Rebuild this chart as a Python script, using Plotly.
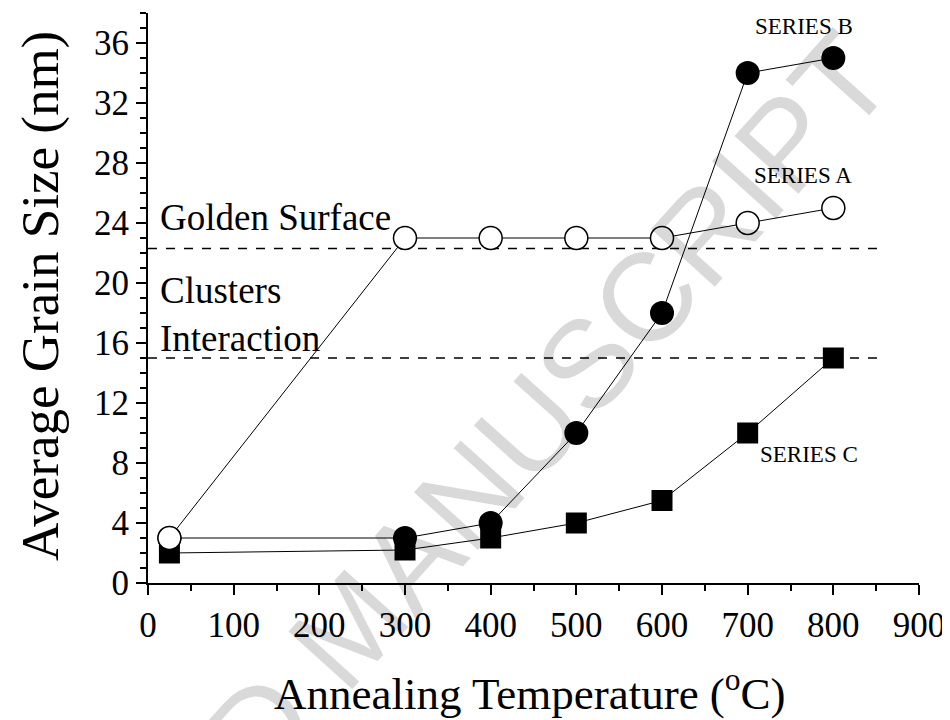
import plotly.graph_objects as go

# Data
temps_a = [25, 300, 400, 500, 600, 700, 800]
series_a = [3, 23, 23, 23, 23, 24, 25]
temps_b = [25, 300, 400, 500, 600, 700, 800]
series_b = [3, 3, 4, 10, 18, 34, 35]
temps_c = [25, 300, 400, 500, 600, 700, 800]
series_c = [2, 2.2, 3, 4, 5.5, 10, 15]
ref_levels = [22.3, 15]
x_ticks = list(range(0, 901, 100))
y_ticks = list(range(0, 37, 4))

FONT = "Liberation Serif, Times New Roman, serif"

fig = go.Figure()

# reference dashed lines
for lv in ref_levels:
    fig.add_trace(go.Scatter(x=[0, 855], y=[lv, lv], mode="lines",
                             line=dict(color="black", width=1.3, dash="dash"),
                             showlegend=False, hoverinfo="skip"))

fig.add_trace(go.Scatter(x=temps_c, y=series_c, mode="lines+markers", name="SERIES C",
                         line=dict(color="black", width=1),
                         marker=dict(symbol="square", size=21, color="black"),
                         showlegend=False))
fig.add_trace(go.Scatter(x=temps_b, y=series_b, mode="lines+markers", name="SERIES B",
                         line=dict(color="black", width=1),
                         marker=dict(symbol="circle", size=24, color="black"),
                         showlegend=False))
fig.add_trace(go.Scatter(x=temps_a, y=series_a, mode="lines+markers", name="SERIES A",
                         line=dict(color="black", width=1),
                         marker=dict(symbol="circle", size=23, color="white",
                                     line=dict(color="black", width=1.5)),
                         showlegend=False))

axis_common = dict(showline=True, linecolor="black", linewidth=2, ticks="outside",
                   tickcolor="black", tickwidth=2, ticklen=10, showgrid=False,
                   zeroline=False, automargin=False,
                   tickfont=dict(family=FONT, size=35, color="black"))

fig.update_xaxes(range=[0, 900], tickvals=x_ticks, ticktext=[str(v) for v in x_ticks],
                 minor=dict(dtick=50, ticklen=6, tickwidth=2, tickcolor="black", ticks="outside"),
                 **axis_common)
fig.update_yaxes(range=[0, 38], tickvals=y_ticks, ticktext=[str(v) for v in y_ticks],
                 minor=dict(dtick=1, ticklen=6, tickwidth=2, tickcolor="black", ticks="outside"),
                 **axis_common)

annotations = [
    dict(x=12, y=24.4, xref="x", yref="y", text="Golden Surface", showarrow=False,
         xanchor="left", yanchor="middle", font=dict(family=FONT, size=37, color="black")),
    dict(x=12, y=19.5, xref="x", yref="y", text="Clusters", showarrow=False,
         xanchor="left", yanchor="middle", font=dict(family=FONT, size=37, color="black")),
    dict(x=12, y=16.3, xref="x", yref="y", text="Interaction", showarrow=False,
         xanchor="left", yanchor="middle", font=dict(family=FONT, size=37, color="black")),
    dict(x=766, y=37.1, xref="x", yref="y", text="SERIES B", showarrow=False,
         xanchor="center", yanchor="middle", font=dict(family=FONT, size=23, color="black")),
    dict(x=765, y=27.2, xref="x", yref="y", text="SERIES A", showarrow=False,
         xanchor="center", yanchor="middle", font=dict(family=FONT, size=23, color="black")),
    dict(x=772, y=8.6, xref="x", yref="y", text="SERIES C", showarrow=False,
         xanchor="center", yanchor="middle", font=dict(family=FONT, size=23, color="black")),
    # axis titles
    dict(x=(530 - 148) / 771, y=(583 - 690) / 570, xref="paper", yref="paper",
         text="Annealing Temperature (<sup>o</sup>C)", showarrow=False,
         xanchor="center", yanchor="middle", font=dict(family=FONT, size=45, color="black")),
    dict(x=(40 - 148) / 771, y=(583 - 296) / 570, xref="paper", yref="paper",
         text="Average Grain Size (nm)",
         showarrow=False, textangle=-90, xanchor="center", yanchor="middle",
         font=dict(family=FONT, size=53, color="black")),
    # watermark
    dict(x=(350 - 148) / 771, y=(583 - 626) / 570, xref="paper", yref="paper",
         text="ACCEPTED MANUSCRIPT", showarrow=False, textangle=-48,
         xanchor="center", yanchor="middle",
         font=dict(family="Liberation Sans, Arial, sans-serif", size=125,
                   color="rgba(0,0,0,0.15)")),
]

# page body has an 8px default margin, so the figure is offset by 8px
fig.update_layout(width=950, height=720, margin=dict(l=140, r=39, t=5, b=145),
                  plot_bgcolor="white", paper_bgcolor="white",
                  annotations=annotations, showlegend=False)

fig.write_html("out.html")
